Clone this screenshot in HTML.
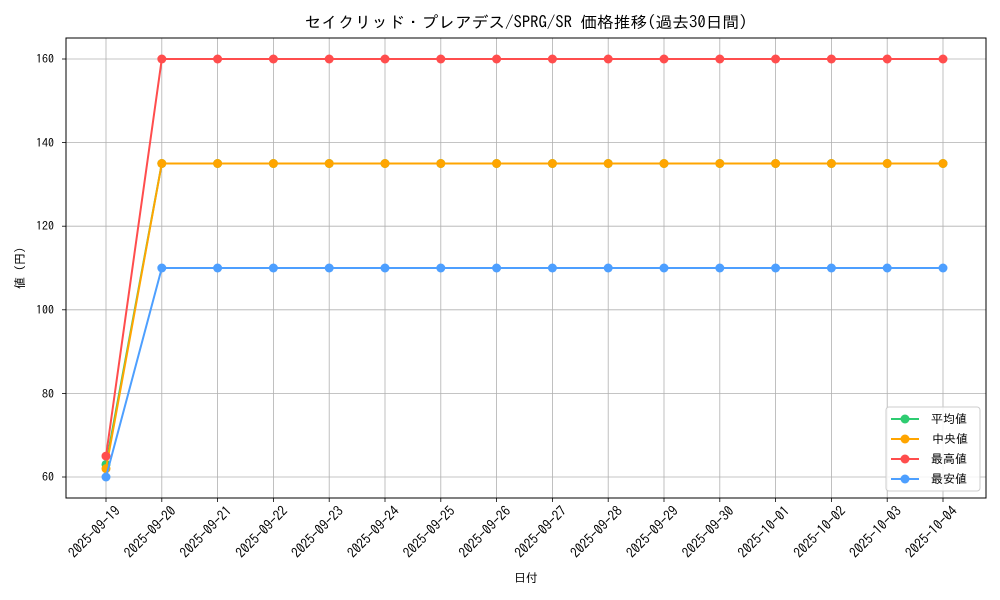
<!DOCTYPE html><html><head><meta charset="utf-8"><style>body{margin:0;background:#fff}svg{display:block;font-family:"IPAGothic","Noto Sans CJK JP",sans-serif}</style></head><body>
<svg id="s" width="1000" height="600" xmlns="http://www.w3.org/2000/svg">
<rect width="1000" height="600" fill="#fff"/>
<g id="grid" stroke="#b0b0b0" stroke-width="0.8"></g>
<rect x="66" y="38" width="920" height="460" fill="none" stroke="#000" stroke-width="1"/>
<g id="series"></g>
<text x="526" y="28" font-size="16" text-anchor="middle" textLength="443" lengthAdjust="spacingAndGlyphs">セイクリッド・プレアデス/SPRG/SR 価格推移(過去30日間)</text>
<g font-size="12" text-anchor="end">
<text x="54" y="63">160</text><text x="54" y="147">140</text><text x="54" y="230">120</text><text x="54" y="314">100</text><text x="54" y="398">80</text><text x="54" y="481">60</text>
</g>
<text transform="translate(24,268) rotate(-90)" font-size="12" text-anchor="middle">値 (円)</text>
<text x="526" y="582" font-size="12" text-anchor="middle">日付</text>
<g font-size="14" text-anchor="end" id="xl">
<text transform="translate(121,512) rotate(-45)" textLength="66" lengthAdjust="spacingAndGlyphs">2025-09-19</text>
<text transform="translate(176.8,512) rotate(-45)" textLength="66" lengthAdjust="spacingAndGlyphs">2025-09-20</text>
<text transform="translate(232.6,512) rotate(-45)" textLength="66" lengthAdjust="spacingAndGlyphs">2025-09-21</text>
<text transform="translate(288.4,512) rotate(-45)" textLength="66" lengthAdjust="spacingAndGlyphs">2025-09-22</text>
<text transform="translate(344.2,512) rotate(-45)" textLength="66" lengthAdjust="spacingAndGlyphs">2025-09-23</text>
<text transform="translate(400,512) rotate(-45)" textLength="66" lengthAdjust="spacingAndGlyphs">2025-09-24</text>
<text transform="translate(455.8,512) rotate(-45)" textLength="66" lengthAdjust="spacingAndGlyphs">2025-09-25</text>
<text transform="translate(511.6,512) rotate(-45)" textLength="66" lengthAdjust="spacingAndGlyphs">2025-09-26</text>
<text transform="translate(567.4,512) rotate(-45)" textLength="66" lengthAdjust="spacingAndGlyphs">2025-09-27</text>
<text transform="translate(623.2,512) rotate(-45)" textLength="66" lengthAdjust="spacingAndGlyphs">2025-09-28</text>
<text transform="translate(679,512) rotate(-45)" textLength="66" lengthAdjust="spacingAndGlyphs">2025-09-29</text>
<text transform="translate(734.8,512) rotate(-45)" textLength="66" lengthAdjust="spacingAndGlyphs">2025-09-30</text>
<text transform="translate(790.6,512) rotate(-45)" textLength="66" lengthAdjust="spacingAndGlyphs">2025-10-01</text>
<text transform="translate(846.4,512) rotate(-45)" textLength="66" lengthAdjust="spacingAndGlyphs">2025-10-02</text>
<text transform="translate(902.2,512) rotate(-45)" textLength="66" lengthAdjust="spacingAndGlyphs">2025-10-03</text>
<text transform="translate(958,512) rotate(-45)" textLength="66" lengthAdjust="spacingAndGlyphs">2025-10-04</text>
</g>
<g>
<rect x="886" y="407" width="94" height="84" rx="3" fill="#fff" fill-opacity="0.85" stroke="#ccc"/>
<line x1="891" y1="419" x2="919" y2="419" stroke="#2ecc71" stroke-width="2"/><circle cx="905" cy="419" r="4.5" fill="#2ecc71"/>
<line x1="891" y1="439" x2="919" y2="439" stroke="#ffa500" stroke-width="2"/><circle cx="905" cy="439" r="4.5" fill="#ffa500"/>
<line x1="891" y1="459" x2="919" y2="459" stroke="#ff4d4d" stroke-width="2"/><circle cx="905" cy="459" r="4.5" fill="#ff4d4d"/>
<line x1="891" y1="479" x2="919" y2="479" stroke="#4d9fff" stroke-width="2"/><circle cx="905" cy="479" r="4.5" fill="#4d9fff"/>
<g font-size="12"><text x="931" y="423">平均値</text><text x="932" y="443">中央値</text><text x="931" y="463">最高値</text><text x="931" y="483">最安値</text></g>
</g>
</svg>
<script>
var ns="http://www.w3.org/2000/svg",g=document.getElementById('grid'),se=document.getElementById('series');
function el(p,t,a){var e=document.createElementNS(ns,t);for(var k in a)e.setAttribute(k,a[k]);p.appendChild(e);return e}
var xs=[];for(var i=0;i<16;i++)xs.push(106+55.8*i);
xs.forEach(function(x){el(g,'line',{x1:x,x2:x,y1:38,y2:498});el(g,'line',{x1:x,x2:x,y1:498,y2:502,stroke:'#000'})});
[59,142.6,226.2,309.8,393.4,477].forEach(function(y){el(g,'line',{x1:66,x2:986,y1:y,y2:y});el(g,'line',{x1:62,x2:66,y1:y,y2:y,stroke:'#000'})});
function Y(v){return 477-(v-60)*4.18}
[['#2ecc71',63,135],['#ffa500',62,135],['#ff4d4d',65,160],['#4d9fff',60,110]].forEach(function(s){
var pts=xs.map(function(x,i){return x+','+Y(i?s[2]:s[1])}).join(' ');
el(se,'polyline',{points:pts,fill:'none',stroke:s[0],'stroke-width':2});
xs.forEach(function(x,i){el(se,'circle',{cx:x,cy:Y(i?s[2]:s[1]),r:4.5,fill:s[0]})});});
</script>
</body></html>
